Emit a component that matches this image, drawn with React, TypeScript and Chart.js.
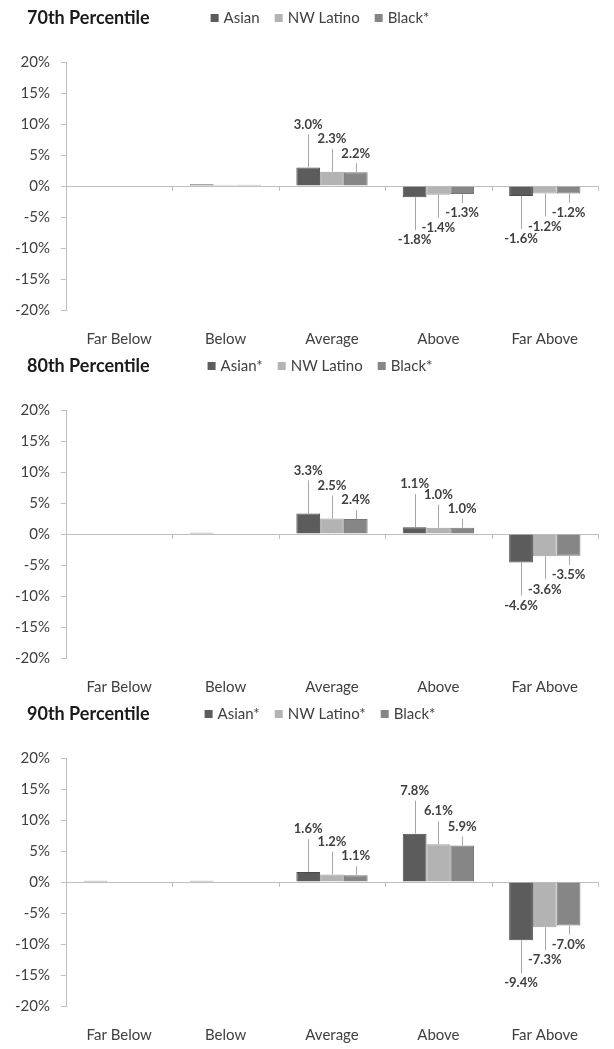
import React, { useEffect, useRef } from 'react';
import { Chart, registerables } from 'chart.js';

Chart.register(...registerables);

// ---------- data ----------
const categories = ['Far Below', 'Below', 'Average', 'Above', 'Far Above'];

const titles = ['70th Percentile', '80th Percentile', '90th Percentile'];

const names70 = ['Asian', 'NW Latino', 'Black*'];
const names80 = ['Asian*', 'NW Latino', 'Black*'];
const names90 = ['Asian*', 'NW Latino*', 'Black*'];

const asian70 = [0, 0.3, 3.0, -1.8, -1.6];
const latino70 = [0, 0.2, 2.3, -1.4, -1.2];
const black70 = [0, 0.2, 2.2, -1.3, -1.2];

const asian80 = [0, 0.2, 3.3, 1.1, -4.6];
const latino80 = [0, 0, 2.5, 1.0, -3.6];
const black80 = [0, 0, 2.4, 1.0, -3.5];

const asian90 = [0.2, 0.2, 1.6, 7.8, -9.4];
const latino90 = [0.1, 0.1, 1.2, 6.1, -7.3];
const black90 = [0.1, 0.1, 1.1, 5.9, -7.0];

const yMin = -20;
const yMax = 20;
const yStep = 5;

// ---------- style ----------
const FONT = 'Lato, "Open Sans", sans-serif';
const COLORS = ['#5c5c5c', '#b3b3b3', '#868686'];
const BORDERS = ['#4a4a4a', '#a0a0a0', '#747474'];
const LABEL_OFFSETS = [43, 33, 19];
const AXIS = '#bfbfbf';
const TEXT = '#404040';
const PANEL_H = 348;
const PANEL_W = 614;

const decorPlugin = {
  id: 'decor',
  afterDatasetsDraw(chart: any) {
    const ctx = chart.ctx;
    const xs = chart.scales.x;
    const ys = chart.scales.y;
    const y0 = ys.getPixelForValue(0);
    const n = chart.data.labels.length;
    ctx.save();
    ctx.strokeStyle = AXIS;
    ctx.lineWidth = 1;
    const bounds: number[] = [];
    for (let i = 0; i < n - 1; i++) {
      bounds.push((xs.getPixelForValue(i) + xs.getPixelForValue(i + 1)) / 2);
    }
    bounds.push(chart.chartArea.right);
    bounds.forEach((bx) => {
      const x = Math.round(bx) + 0.5;
      ctx.beginPath();
      ctx.moveTo(x, y0);
      ctx.lineTo(x, y0 + 5);
      ctx.stroke();
    });
    ctx.font = 'bold 13px ' + FONT;
    ctx.textAlign = 'center';
    ctx.textBaseline = 'middle';
    chart.data.datasets.forEach((ds: any, di: number) => {
      const meta = chart.getDatasetMeta(di);
      meta.data.forEach((bar: any, i: number) => {
        const v = ds.data[i];
        if (Math.abs(v) < 0.5) return;
        const sign = v >= 0 ? -1 : 1;
        const ly = bar.y + sign * LABEL_OFFSETS[di];
        const lineEnd = ly - sign * 10;
        ctx.strokeStyle = '#a6a6a6';
        ctx.beginPath();
        const x = Math.round(bar.x) + 0.5;
        ctx.moveTo(x, bar.y);
        ctx.lineTo(x, lineEnd);
        ctx.stroke();
        ctx.fillStyle = TEXT;
        ctx.fillText(v.toFixed(1) + '%', bar.x, ly);
      });
    });
    ctx.restore();
  },
  afterDraw(chart: any, _args: any, opts: any) {
    const ctx = chart.ctx;
    ctx.save();
    ctx.textBaseline = 'middle';
    ctx.textAlign = 'left';
    ctx.fillStyle = '#1a1a1a';
    ctx.font = 'bold 18px ' + FONT;
    ctx.fillText(opts.title, 27, 18);
    ctx.font = '15px ' + FONT;
    const items = chart.data.datasets.map((d: any) => d.label);
    const box = 8;
    const gapBox = 5;
    const gapItem = 15;
    let total = 0;
    items.forEach((t: string, i: number) => {
      total += box + gapBox + ctx.measureText(t).width + (i < items.length - 1 ? gapItem : 0);
    });
    let x = 320 - total / 2;
    items.forEach((t: string, i: number) => {
      ctx.fillStyle = COLORS[i];
      ctx.fillRect(x, 18 - box / 2, box, box);
      x += box + gapBox;
      ctx.fillStyle = TEXT;
      ctx.fillText(t, x, 18);
      x += ctx.measureText(t).width + gapItem;
    });
    ctx.restore();
  },
};

type PanelProps = { title: string; names: string[]; series: number[][] };

function Panel({ title, names, series }: PanelProps) {
  const ref = useRef<HTMLCanvasElement | null>(null);
  useEffect(() => {
    if (!ref.current) return;
    const chart = new Chart(ref.current, {
      type: 'bar',
      data: {
        labels: categories,
        datasets: series.map((d, i) => ({
          label: names[i],
          data: d,
          backgroundColor: COLORS[i],
          borderColor: BORDERS[i],
          borderWidth: 1,
          categoryPercentage: 0.67,
          barPercentage: 1.0,
        })),
      },
      options: {
        animation: false,
        responsive: false,
        devicePixelRatio: 1,
        layout: { padding: { top: 62, left: 0, right: 16, bottom: 0 } },
        plugins: {
          legend: { display: false },
          tooltip: { enabled: false },
          title: { display: false },
          decor: { title },
        } as any,
        scales: {
          x: {
            grid: { display: false },
            border: { display: false },
            ticks: {
              color: TEXT,
              font: { family: FONT, size: 15 },
              padding: 12,
              maxRotation: 0,
            },
            afterFit: (s: any) => {
              s.height = 38;
            },
          },
          y: {
            min: yMin,
            max: yMax,
            border: { display: true, color: AXIS },
            grid: {
              color: (c: any) => (c.tick && c.tick.value === 0 ? AXIS : 'rgba(0,0,0,0)'),
              tickColor: AXIS,
              tickLength: 5,
              drawOnChartArea: true,
            },
            ticks: {
              stepSize: yStep,
              color: TEXT,
              font: { family: FONT, size: 15 },
              padding: 11,
              callback: (v: any) => v + '%',
            },
            afterFit: (s: any) => {
              s.width = 66;
            },
          },
        },
      },
      plugins: [decorPlugin],
    });
    return () => chart.destroy();
  }, [title, names, series]);
  return (
    <canvas
      ref={ref}
      width={PANEL_W}
      height={PANEL_H}
      style={{ display: 'block', width: PANEL_W, height: PANEL_H }}
    />
  );
}

export default function App() {
  return (
    <div style={{ position: 'absolute', left: 0, top: 0, width: PANEL_W, background: '#fff' }}>
      <Panel title={titles[0]} names={names70} series={[asian70, latino70, black70]} />
      <Panel title={titles[1]} names={names80} series={[asian80, latino80, black80]} />
      <Panel title={titles[2]} names={names90} series={[asian90, latino90, black90]} />
    </div>
  );
}
